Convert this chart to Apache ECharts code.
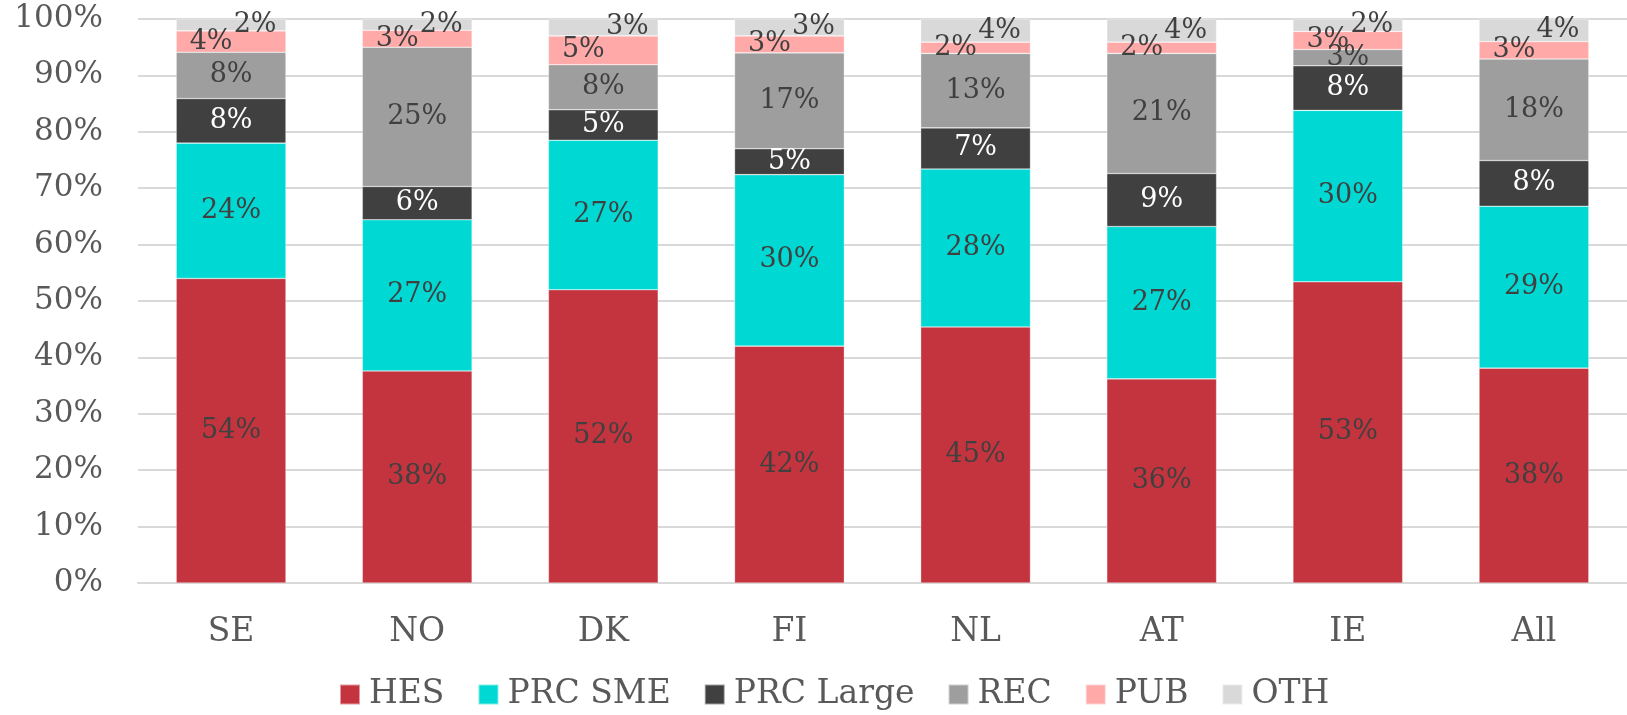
<!DOCTYPE html>
<html>
<head>
<meta charset="utf-8">
<title>Share by sector</title>
<script src="https://cdn.jsdelivr.net/npm/echarts@6.0.0/dist/echarts.min.js"></script>
<style>
  html, body { margin: 0; padding: 0; background: #fff; }
  #chart { width: 1627px; height: 715px; }
</style>
</head>
<body>
<div id="chart"></div>
<script>
// shares in percent
var countries = ['SE', 'NO', 'DK', 'FI', 'NL', 'AT', 'IE', 'All'];
var hes = [54.0, 37.6, 52.0, 42.0, 45.4, 36.2, 53.4, 38.1];
var prcSme = [24.0, 26.8, 26.5, 30.4, 28.0, 27.0, 30.4, 28.7];
var prcLarge = [7.9, 5.9, 5.4, 4.6, 7.3, 9.4, 7.9, 8.1];
var rec = [8.2, 24.7, 8.0, 17.0, 13.2, 21.3, 2.9, 18.0];
var pub = [3.8, 3.0, 5.1, 3.0, 2.0, 2.0, 3.2, 3.1];
var oth = [2.1, 2.0, 3.0, 3.0, 4.1, 4.1, 2.2, 4.0];
var seriesNames = ['HES', 'PRC SME', 'PRC Large', 'REC', 'PUB', 'OTH'];

(function (echarts) {
  "use strict";

  var FONT = '"DejaVu Serif", Georgia, serif'
    , TEXT = '#595959'
    , LABEL = '#404040'
    , GRID = '#d9d9d9';

  var colors = ['#c3343e', '#00d9d3', '#404040', '#9e9e9e', '#ffa9a9', '#d9d9d9'];
  var values = [hes, prcSme, prcLarge, rec, pub, oth];
  // the small top segments have their labels pushed aside, as in the original
  var offsets = [[0, 0], [0, 0], [0, 0], [0, 0], [-20, 0], [24, 0]];

  function makeSeries(name, i) {
    return {
      name: name,
      type: 'bar',
      stack: 'share',
      barCategoryGap: '41%',
      data: values[i],
      itemStyle: {
        color: colors[i],
        borderColor: 'rgba(255,255,255,0.5)',
        borderWidth: 0.6
      },
      label: {
        show: true,
        position: 'inside',
        offset: offsets[i],
        fontFamily: FONT,
        fontSize: 27,
        color: i === 2 ? '#ffffff' : LABEL,
        formatter: function (p) { return Math.round(p.value) + '%'; }
      }
    };
  }

  var chart = echarts.init(document.getElementById('chart'));

  chart.setOption({
    animation: false,
    color: colors,
    grid: { left: 138, right: 0, top: 19, bottom: 132, containLabel: false },
    legend: {
      top: 673,
      left: 334,
      icon: 'rect',
      itemWidth: 20,
      itemHeight: 20,
      itemGap: 33,
      textStyle: { fontFamily: FONT, fontSize: 33, color: TEXT, padding: [0, 0, 0, 4] },
      data: seriesNames
    },
    xAxis: {
      type: 'category',
      data: countries,
      axisLine: { lineStyle: { color: GRID, width: 2 } },
      axisTick: { show: false },
      axisLabel: { fontFamily: FONT, fontSize: 33, color: TEXT, margin: 33 }
    },
    yAxis: {
      type: 'value',
      min: 0,
      max: 100,
      interval: 10,
      axisLine: { show: false },
      axisTick: { show: false },
      axisLabel: { fontFamily: FONT, fontSize: 31, color: TEXT, margin: 35, formatter: '{value}%' },
      splitLine: { lineStyle: { color: GRID, width: 2 } }
    },
    series: seriesNames.map(makeSeries)
  });
})(echarts);
</script>
</body>
</html>
